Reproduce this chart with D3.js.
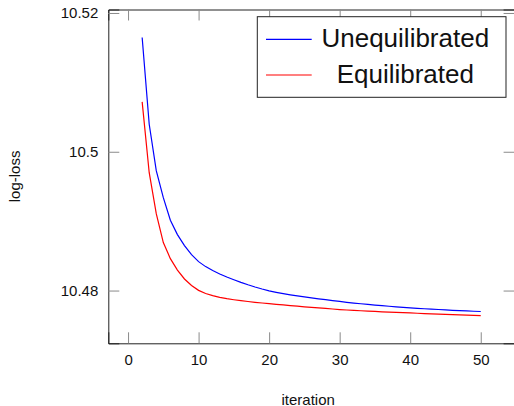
<!DOCTYPE html>
<html>
<head>
<meta charset="utf-8">
<script src="https://cdn.jsdelivr.net/npm/d3@7"></script>
<style>
  body { margin: 0; background: #fff; }
  text { font-family: "Liberation Sans", Arial, sans-serif; fill: #111; }
</style>
</head>
<body>
<div id="chart"></div>
<script>
// Data
var iterations = d3.range(2, 51);
var unequilibrated = [
  10.51647, 10.50396, 10.49727, 10.49338, 10.49014, 10.48806, 10.48648, 10.48518, 10.48417,
  10.48345, 10.48288, 10.48239, 10.48195, 10.48156, 10.48118, 10.48083, 10.48051, 10.48022,
  10.47996, 10.47975, 10.47956, 10.47939, 10.47923, 10.47908, 10.47894, 10.47881, 10.47868,
  10.47855, 10.47843, 10.47831, 10.47820, 10.47810, 10.47800, 10.47791, 10.47783, 10.47774,
  10.47766, 10.47758, 10.47751, 10.47744, 10.47738, 10.47732, 10.47727, 10.47721, 10.47715,
  10.47711, 10.47706, 10.47702, 10.47698
];
var equilibrated = [
  10.50719, 10.49698, 10.49108, 10.48691, 10.48460, 10.48295, 10.48167, 10.48072, 10.48003,
  10.47958, 10.47927, 10.47903, 10.47884, 10.47868, 10.47854, 10.47842, 10.47831, 10.47821,
  10.47812, 10.47802, 10.47793, 10.47784, 10.47775, 10.47766, 10.47758, 10.47750, 10.47742,
  10.47734, 10.47726, 10.47720, 10.47714, 10.47709, 10.47704, 10.47699, 10.47694, 10.47689,
  10.47685, 10.47681, 10.47677, 10.47673, 10.47669, 10.47665, 10.47661, 10.47657, 10.47653,
  10.47650, 10.47646, 10.47643, 10.47640
];
var xTicks = [0, 10, 20, 30, 40, 50];
var yTicks = [10.48, 10.5, 10.52];
var yTickLabels = ["10.48", "10.5", "10.52"];
var seriesNames = ["Unequilibrated", "Equilibrated"];
var seriesColors = ["#0000ff", "#ff0000"];

// SVG area
var svgWidth = 514;
var svgHeight = 406;

var margin = { top: 9.5, right: -0.6, bottom: 62.7, left: 108.3 };

var chartWidth = svgWidth - margin.left - margin.right;
var chartHeight = svgHeight - margin.top - margin.bottom;

var svg = d3.select("#chart")
  .append("svg")
  .attr("width", svgWidth)
  .attr("height", svgHeight);

var chartGroup = svg.append("g")
  .attr("transform", `translate(${margin.left}, ${margin.top})`);

// Scales (limits enlarged by 10% like pgfplots)
var xScale = d3.scaleLinear()
  .domain([-2.8, 54.8])
  .range([0, chartWidth]);

var yScale = d3.scaleLinear()
  .domain([10.4724, 10.5205])
  .range([chartHeight, 0]);

var tickLen = 11;

var bottomAxis = d3.axisBottom(xScale).tickValues(xTicks).tickSize(-tickLen).tickPadding(11);
var leftAxis = d3.axisLeft(yScale).tickValues(yTicks).tickSize(-tickLen).tickPadding(10)
  .tickFormat(function(d, i) { return yTickLabels[i]; });
var topAxis = d3.axisTop(xScale).tickValues(xTicks).tickSize(-tickLen).tickFormat("");
var rightAxis = d3.axisRight(yScale).tickValues(yTicks).tickSize(-tickLen).tickFormat("");

function styleAxis(g) {
  g.select(".domain").attr("stroke", "#222").attr("stroke-width", 1);
  g.selectAll(".tick line").attr("stroke", "#8a8a8a").attr("stroke-width", 1);
  g.selectAll(".tick text")
    .attr("font-family", "Liberation Sans, Arial, sans-serif")
    .attr("font-size", "15px")
    .attr("fill", "#111");
  g.attr("font-family", null).attr("font-size", null);
}

chartGroup.append("g").call(topAxis).call(styleAxis);
chartGroup.append("g")
  .attr("transform", `translate(${chartWidth}, 0)`)
  .call(rightAxis).call(styleAxis);
chartGroup.append("g")
  .attr("transform", `translate(0, ${chartHeight})`)
  .call(bottomAxis).call(styleAxis);
chartGroup.append("g").call(leftAxis).call(styleAxis);

// Lines
var seriesData = [unequilibrated, equilibrated];

var line = d3.line()
  .x(function(d, i) { return xScale(iterations[i]); })
  .y(function(d) { return yScale(d); });

chartGroup.selectAll(".series")
  .data(seriesData)
  .enter()
  .append("path")
  .attr("class", "series")
  .attr("d", line)
  .attr("fill", "none")
  .attr("stroke", function(d, i) { return seriesColors[i]; })
  .attr("stroke-width", 1.2);

// Axis titles
svg.append("text")
  .attr("transform", `translate(${svgWidth / 2 + margin.left / 2 - 3}, 404.5)`)
  .attr("text-anchor", "middle")
  .attr("font-size", "15px")
  .text("iteration");

svg.append("text")
  .attr("transform", `translate(20, ${margin.top + chartHeight / 2}) rotate(-90)`)
  .attr("text-anchor", "middle")
  .attr("font-size", "15px")
  .text("log-loss");

// Legend
var legend = svg.append("g")
  .attr("transform", "translate(257.3, 16.7)");

legend.append("rect")
  .attr("width", 248.7)
  .attr("height", 80.6)
  .attr("fill", "#fff")
  .attr("stroke", "#222")
  .attr("stroke-width", 1);

var legendItems = legend.selectAll(".item")
  .data(seriesNames)
  .enter()
  .append("g")
  .attr("class", "item")
  .attr("transform", function(d, i) { return `translate(0, ${22.6 + i * 35.7})`; });

legendItems.append("line")
  .attr("x1", 8.7)
  .attr("x2", 54.4)
  .attr("stroke", function(d, i) { return seriesColors[i]; })
  .attr("stroke-width", 1.2);

legendItems.append("text")
  .attr("x", 148)
  .attr("y", 8)
  .attr("text-anchor", "middle")
  .attr("font-size", "26px")
  .text(function(d) { return d; });
</script>
</body>
</html>
